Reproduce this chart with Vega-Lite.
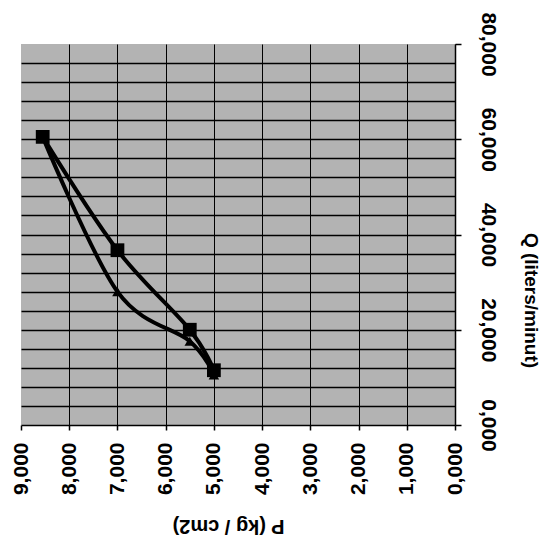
{
  "$schema": "https://vega.github.io/schema/vega-lite/v6.json",
  "width": 434,
  "height": 381,
  "autosize": "none",
  "padding": {"left": 21, "top": 44, "right": 88, "bottom": 115},
  "background": "white",
  "config": {
    "view": {"fill": "#b3b3b3", "stroke": null},
    "font": "Liberation Sans"
  },
  "data": {
    "values": [
      {"series": "A", "P": 8.55, "Q": 60.5},
      {"series": "A", "P": 7.0, "Q": 36.7},
      {"series": "A", "P": 5.5, "Q": 20.0},
      {"series": "A", "P": 5.0, "Q": 11.5},
      {"series": "B", "P": 8.55, "Q": 60.5},
      {"series": "B", "P": 7.0, "Q": 28.0},
      {"series": "B", "P": 5.5, "Q": 17.6},
      {"series": "B", "P": 5.0, "Q": 10.5}
    ]
  },
  "encoding": {
    "x": {
      "field": "P",
      "type": "quantitative",
      "scale": {"domain": [0, 9], "reverse": true, "nice": false, "zero": false},
      "axis": {
        "orient": "bottom",
        "values": [0, 1, 2, 3, 4, 5, 6, 7, 8, 9],
        "labelExpr": "replace(format(datum.value, '.3f'), '.', ',')",
        "labelAngle": 270,
        "labelAlign": "right",
        "labelBaseline": "middle",
        "labelFontSize": 21,
        "labelFontWeight": "bold",
        "labelColor": "black",
        "labelPadding": 12,
        "labelOverlap": false,
        "labelBound": false,
        "labelFlush": false,
        "domainColor": "black",
        "domainWidth": 1.5,
        "tickColor": "black",
        "tickSize": 5,
        "tickWidth": 1.5,
        "grid": true,
        "gridColor": "black",
        "gridWidth": 1,
        "gridOpacity": {"condition": {"test": "datum.value === 9", "value": 0}, "value": 1},
        "title": "P  (kg / cm2)",
        "titleAngle": 180,
        "titleFontSize": 20,
        "titleFontWeight": "bold",
        "titleColor": "black",
        "titleX": 207,
        "titleY": 100,
        "titleAlign": "center",
        "titleBaseline": "middle"
      }
    },
    "y": {
      "field": "Q",
      "type": "quantitative",
      "scale": {"domain": [0, 80], "nice": false},
      "axis": {
        "orient": "right",
        "values": [0, 4, 8, 12, 16, 20, 24, 28, 32, 36, 40, 44, 48, 52, 56, 60, 64, 68, 72, 76, 80],
        "labelExpr": "datum.value % 20 === 0 ? replace(format(datum.value, '.3f'), '.', ',') : ''",
        "labelAngle": 90,
        "labelAlign": "center",
        "labelBaseline": "bottom",
        "labelFontSize": 21,
        "labelFontWeight": "bold",
        "labelColor": "black",
        "labelPadding": 16,
        "labelOverlap": false,
        "labelBound": false,
        "labelFlush": false,
        "domainColor": "black",
        "domainWidth": 1.5,
        "tickColor": "black",
        "tickSize": 6,
        "tickWidth": 1.5,
        "tickOpacity": {"condition": {"test": "datum.value % 20 === 0", "value": 1}, "value": 0},
        "grid": true,
        "gridColor": "black",
        "gridWidth": 1.6,
        "gridOpacity": {"condition": {"test": "datum.value === 0 || datum.value === 80", "value": 0}, "value": 1},
        "title": "Q  (liters/minut)",
        "titleAngle": 90,
        "titleFontSize": 19,
        "titleFontWeight": "bold",
        "titleColor": "black",
        "titleX": 75,
        "titleY": 256,
        "titleAlign": "center",
        "titleBaseline": "middle"
      }
    }
  },
  "layer": [
    {
      "mark": {"type": "line", "interpolate": "cardinal", "color": "black", "strokeWidth": 4},
      "encoding": {"detail": {"field": "series"}}
    },
    {
      "mark": {"type": "point", "filled": true, "color": "black", "opacity": 1},
      "encoding": {
        "shape": {"field": "series", "scale": {"domain": ["A", "B"], "range": ["square", "triangle-up"]}, "legend": null},
        "size": {"field": "series", "scale": {"domain": ["A", "B"], "range": [190, 110]}, "legend": null}
      }
    }
  ]
}
